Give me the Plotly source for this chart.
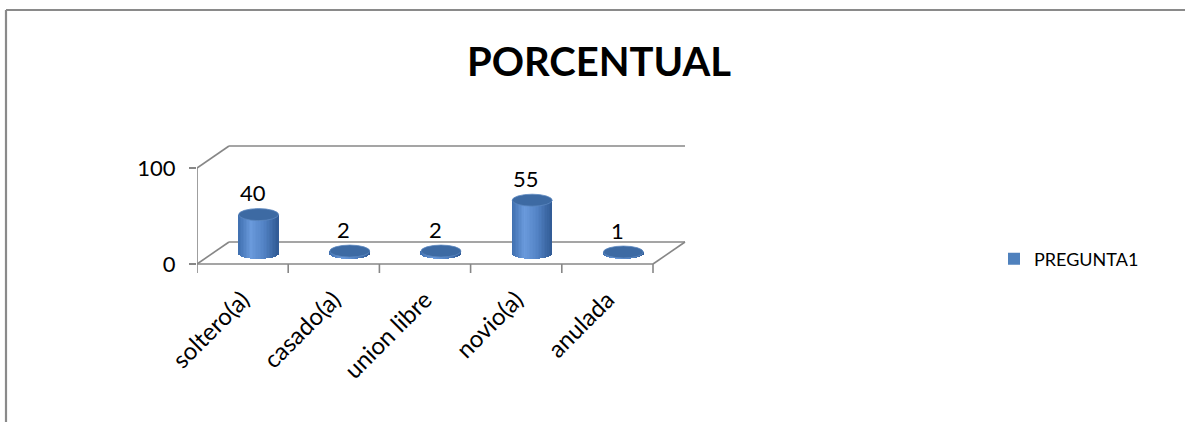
import numpy as np
import plotly.graph_objects as go

# ---- data ----
categories = ["soltero(a)", "casado(a)", "union libre", "novio(a)", "anulada"]
values = [40, 2, 2, 55, 1]
series_name = "PREGUNTA1"
y_tick_vals = [0, 100]
y_tick_text = ["0", "100"]
title_text = "PORCENTUAL"

# ---- geometry (pixels -> axis units) ----
FIG_W, FIG_H = 1185, 422
PLOT_L, PLOT_R, PLOT_T, PLOT_B = 197, 700, 130, 280
FLOOR_PX = 264
PX_PER_CAT = 91.2
PX_PER_UNIT = 0.96
X_RANGE = [0, (PLOT_R - PLOT_L) / PX_PER_CAT]
Y_RANGE = [-(PLOT_B - FLOOR_PX) / PX_PER_UNIT, (FLOOR_PX - PLOT_T) / PX_PER_UNIT]
DX = 32 / PX_PER_CAT          # depth offset of the back wall
DY = 22 / PX_PER_UNIT
CYL_W = 40 / PX_PER_CAT       # cylinder diameter
CYL_RY = 6 / PX_PER_UNIT      # half height of the cylinder ellipses
N_STRIPS = 26
TICK_DOWN = 9 / PX_PER_UNIT

GRID = "#878787"
FONT = "Lato, 'Open Sans', sans-serif"
TOP_COLOR = "#3d6aa3"
LEGEND_COLOR = "#4f81bd"

# body shading across the cylinder (left -> right)
shade_u = [-1.0, -0.35, 0.3, 1.0]
shade_rgb = [(62, 110, 174), (106, 154, 220), (82, 130, 196), (48, 90, 148)]


def shade(u):
    r = np.interp(u, shade_u, [c[0] for c in shade_rgb])
    g = np.interp(u, shade_u, [c[1] for c in shade_rgb])
    b = np.interp(u, shade_u, [c[2] for c in shade_rgb])
    return f"rgb({r:.0f},{g:.0f},{b:.0f})"


def px_x(px):
    return (px - PLOT_L) / (PLOT_R - PLOT_L)


def px_y(py):
    return (PLOT_B - py) / (PLOT_B - PLOT_T)


n = len(categories)
centers = [i + 0.5 + DX / 2 for i in range(n)]
base = DY / 2

fig = go.Figure()

# cylinder bodies: vertical strips whose bottoms follow the lower ellipse arc
strip_w = CYL_W / N_STRIPS
for k in range(N_STRIPS):
    u = -1 + (2 * k + 1) / N_STRIPS
    h = CYL_RY * np.sqrt(max(0.0, 1 - u * u))
    fig.add_trace(go.Bar(
        x=centers,
        y=[v + h for v in values],
        base=[base - h] * n,
        width=strip_w * 1.15,
        offset=-CYL_W / 2 + k * strip_w - strip_w * 0.075,
        marker=dict(color=shade(u), line=dict(width=0)),
        showlegend=False,
        hoverinfo="skip",
    ))

# legend entry
fig.add_trace(go.Bar(x=[None], y=[None], name=series_name,
                     marker=dict(color=LEGEND_COLOR, line=dict(width=0)),
                     showlegend=True))

shapes = []


def seg(x0, y0, x1, y1):
    shapes.append(dict(type="line", xref="x", yref="y", x0=x0, y0=y0, x1=x1, y1=y1,
                       line=dict(color=GRID, width=1.6), layer="below"))


# walls / gridlines at each y tick
for yv in y_tick_vals:
    seg(0, yv, DX, yv + DY)
    seg(DX, yv + DY, n + DX, yv + DY)
# floor outline
seg(0, 0, n, 0)
seg(n, 0, n + DX, DY)
# front value axis
seg(0, 0, 0, max(y_tick_vals))
# category ticks
for i in range(n + 1):
    seg(i, 0, i, -TICK_DOWN)

# cylinder tops
for cx, v in zip(centers, values):
    shapes.append(dict(type="circle", xref="x", yref="y",
                       x0=cx - CYL_W / 2, x1=cx + CYL_W / 2,
                       y0=base + v - CYL_RY, y1=base + v + CYL_RY,
                       fillcolor=TOP_COLOR, line=dict(width=0.8, color="#5b86bf"),
                       layer="above"))

# outer chart border
for (ax, ay, bx, by) in [(6, 10, FIG_W + 5, 10), (6, 10, 6, FIG_H + 5)]:
    shapes.append(dict(type="line", xref="paper", yref="paper",
                       x0=px_x(ax), y0=px_y(ay), x1=px_x(bx), y1=px_y(by),
                       line=dict(color="#8a8a8a", width=2.2), layer="above"))

annotations = []
for cx, v in zip(centers, values):
    annotations.append(dict(x=cx, y=base + v, xref="x", yref="y", text=str(v),
                            showarrow=False, xshift=-6, yshift=22,
                            xanchor="center", yanchor="middle",
                            font=dict(family=FONT, size=22, color="#000000")))

fig.update_layout(
    width=FIG_W, height=FIG_H,
    margin=dict(l=PLOT_L, r=FIG_W - PLOT_R, t=PLOT_T, b=FIG_H - PLOT_B, pad=0),
    paper_bgcolor="white", plot_bgcolor="rgba(0,0,0,0)",
    barmode="overlay", bargap=0,
    title=dict(text=title_text, xref="container", yref="container",
               x=599 / FIG_W, y=1 - 62 / FIG_H, xanchor="center", yanchor="middle",
               font=dict(family=FONT, size=40, color="#000000", weight="bold")),
    xaxis=dict(range=X_RANGE, tickmode="array",
               tickvals=[i + 0.5 for i in range(n)], ticktext=categories,
               tickangle=-45, ticks="", showline=False, showgrid=False, zeroline=False,
               tickfont=dict(family=FONT, size=24, color="#000000"),
               fixedrange=True),
    yaxis=dict(range=Y_RANGE, tickmode="array", tickvals=y_tick_vals, ticktext=y_tick_text,
               ticks="outside", ticklen=7, tickwidth=1.6, tickcolor=GRID,
               ticklabelstandoff=9,
               showline=False, showgrid=False, zeroline=False,
               tickfont=dict(family=FONT, size=22, color="#000000"),
               fixedrange=True),
    legend=dict(x=px_x(994), y=px_y(259), xanchor="left", yanchor="middle",
                font=dict(family=FONT, size=18, color="#000000"),
                bgcolor="rgba(0,0,0,0)"),
    shapes=shapes,
    annotations=annotations,
)

fig.write_html("out.html")
